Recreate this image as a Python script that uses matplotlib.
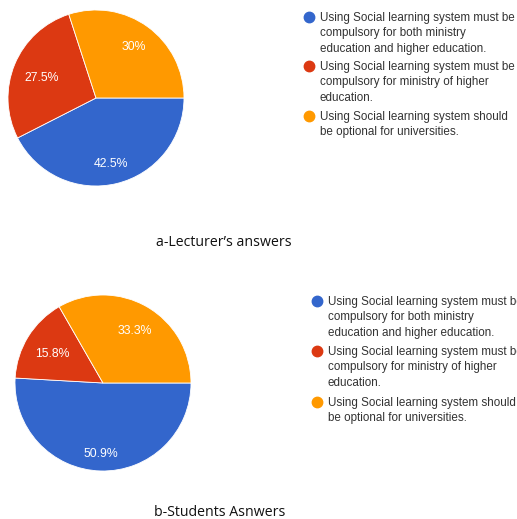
import numpy as np
import matplotlib
matplotlib.use("Agg")
import matplotlib.pyplot as plt
from matplotlib.lines import Line2D

# data
categories = [
    "Using Social learning system must be\ncompulsory for both ministry\neducation and higher education.",
    "Using Social learning system must be\ncompulsory for ministry of higher\neducation.",
    "Using Social learning system should\nbe optional for universities.",
]
lecturer_vals = [42.5, 27.5, 30.0]
student_vals = [50.9, 15.8, 33.3]
colors = ["#3366CC", "#DC3912", "#FF9900"]
captions = ["a-Lecturer\u2019s answers", "b-Students Asnwers"]

W, H = 517, 519
fig = plt.figure(figsize=(W / 100, H / 100), dpi=100)


def fx(x):
    return x / W


def fy(y):
    return 1 - y / H


def draw_pie(vals, cx, cy, r):
    ax = fig.add_axes([fx(cx - r), fy(cy + r), 2 * r / W, 2 * r / H])
    wedges, _, autotexts = ax.pie(
        vals, colors=colors, startangle=0, counterclock=False, radius=1,
        autopct=lambda p: ("%.1f%%" % p).replace(".0%", "%"),
        pctdistance=0.7,
        textprops=dict(color="white", fontsize=8.8, family="Liberation Sans"),
        wedgeprops=dict(edgecolor="white", linewidth=0.6))
    ax.set_xlim(-1, 1)
    ax.set_ylim(-1, 1)
    ax.axis("off")

    # place each label so the outer corner of its box sits at a fixed radius
    fig.canvas.draw()
    rend = fig.canvas.get_renderer()
    scale = r  # pixels per data unit
    for w, t in zip(wedges, autotexts):
        ang = np.deg2rad((w.theta1 + w.theta2) / 2)
        u = np.array([np.cos(ang), np.sin(ang)])
        bb = t.get_window_extent(rend)
        c = np.array([np.sign(u[0]) * bb.width / 2, np.sign(u[1]) * bb.height / 2 * 0.8])
        R = 0.87 * scale
        uc = u @ c
        d = -uc + np.sqrt(uc ** 2 - c @ c + R ** 2)
        pos = u * d / scale
        t.set_position((pos[0], pos[1] - 2 / scale))


def draw_legend(x0, ys):
    for lab, c, y in zip(categories, colors, ys):
        fig.add_artist(Line2D([fx(x0)], [fy(y)], marker="o", markersize=7.5,
                              color=c, transform=fig.transFigure))
        fig.text(fx(x0 + 11), fy(y - 5), lab, fontsize=8.4, family="Liberation Sans",
                 color="#333333", va="top", ha="left", linespacing=1.38)


draw_pie(lecturer_vals, 96, 98, 88)
draw_pie(student_vals, 103, 383, 88)
draw_legend(309, [17, 66, 116])
draw_legend(317, [301, 351, 402])

fig.text(fx(224), fy(242), captions[0], ha="center", va="center",
         fontsize=10.2, family="Open Sans", color="#111111")
fig.text(fx(220), fy(513), captions[1], ha="center", va="center",
         fontsize=10.2, family="Open Sans", color="#111111")

fig.savefig("out.png", dpi=100)
